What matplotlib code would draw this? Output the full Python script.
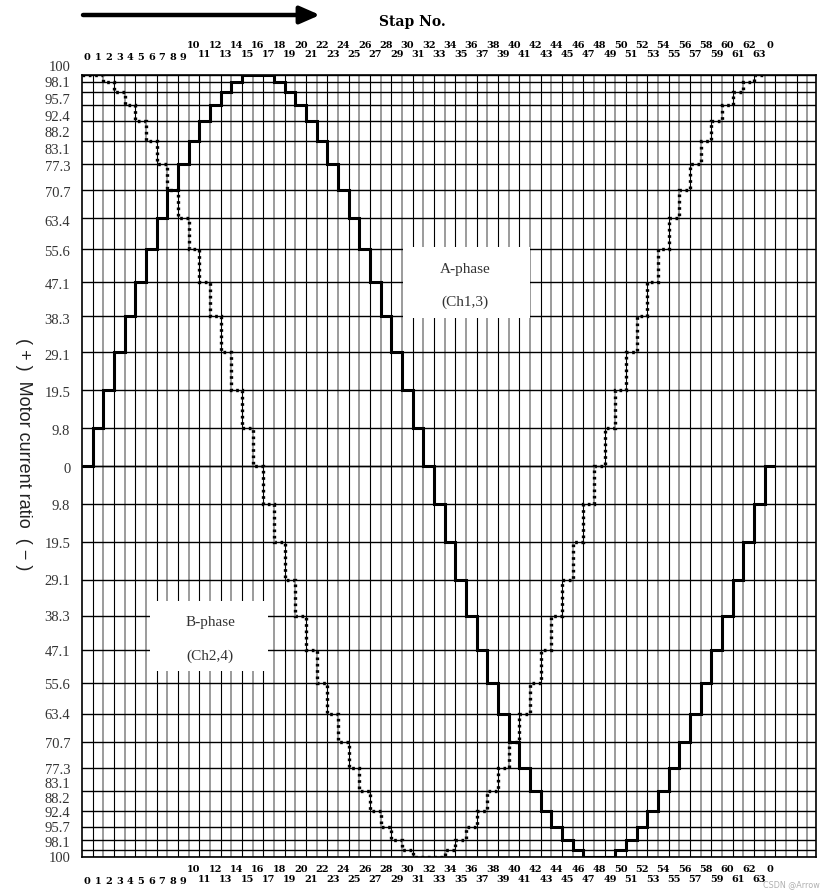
import numpy as np
import matplotlib.pyplot as plt
from matplotlib.patches import Rectangle

# current ratio levels (quarter wave table)
levels = [0, 9.8, 19.5, 29.1, 38.3, 47.1, 55.6, 63.4, 70.7, 77.3, 83.1, 88.2, 92.4, 95.7, 98.1, 100]

# A-phase (Ch1,3), steps 0..63 and back to 0
a_phase = [0, 9.8, 19.5, 29.1, 38.3, 47.1, 55.6, 63.4, 70.7, 77.3, 83.1, 88.2, 92.4, 95.7, 98.1, 100,
           100, 100, 98.1, 95.7, 92.4, 88.2, 83.1, 77.3, 70.7, 63.4, 55.6, 47.1, 38.3, 29.1, 19.5, 9.8,
           0, -9.8, -19.5, -29.1, -38.3, -47.1, -55.6, -63.4, -70.7, -77.3, -83.1, -88.2, -92.4, -95.7, -98.1, -100,
           -100, -100, -98.1, -95.7, -92.4, -88.2, -83.1, -77.3, -70.7, -63.4, -55.6, -47.1, -38.3, -29.1, -19.5, -9.8,
           0]

# B-phase (Ch2,4), steps 0..63
b_phase = [100, 100, 98.1, 95.7, 92.4, 88.2, 83.1, 77.3, 70.7, 63.4, 55.6, 47.1, 38.3, 29.1, 19.5, 9.8,
           0, -9.8, -19.5, -29.1, -38.3, -47.1, -55.6, -63.4, -70.7, -77.3, -83.1, -88.2, -92.4, -95.7, -98.1, -100,
           -100, -100, -98.1, -95.7, -92.4, -88.2, -83.1, -77.3, -70.7, -63.4, -55.6, -47.1, -38.3, -29.1, -19.5, -9.8,
           0, 9.8, 19.5, 29.1, 38.3, 47.1, 55.6, 63.4, 70.7, 77.3, 83.1, 88.2, 92.4, 95.7, 98.1, 100]

step_labels = [str(i) for i in range(64)] + ['0']

W, H = 825, 892
fig = plt.figure(figsize=(W / 100, H / 100), dpi=100)
ax = fig.add_axes([82 / W, 1 - 857 / H, (816 - 82) / W, (857 - 75) / H])
ax.set_xlim(0, 68.8)
ax.set_ylim(-100, 100)
ax.set_xticks([])
ax.set_yticks([])
for s in ax.spines.values():
    s.set_linewidth(1.2)

# grid
for i in range(1, 69):
    if i % 2:
        ax.axvline(i, color='black', lw=0.8, zorder=1)
    else:
        ax.axvline(i, color='#8a8a8a', lw=1.2, zorder=1)
for v in levels:
    ax.axhline(v, color='black', lw=1.0, zorder=1)
    ax.axhline(-v, color='black', lw=1.0, zorder=1)

# phase name boxes
ax.add_patch(Rectangle((30.1, 37.8), 11.9, 18.2, facecolor='white', edgecolor='none', zorder=2))
ax.add_patch(Rectangle((6.4, -52.4), 11.0, 18.0, facecolor='white', edgecolor='none', zorder=2))
txt = dict(family='Liberation Serif', fontsize=11, color='#333333', ha='center', va='center', zorder=3)
ax.text(35.9, 50.3, 'A-phase', **txt)
ax.text(35.9, 42.0, '(Ch1,3)', **txt)
ax.text(12.0, -40.0, 'B-phase', **txt)
ax.text(12.0, -48.7, '(Ch2,4)', **txt)

# waveforms
ax.stairs(a_phase, np.arange(len(a_phase) + 1), baseline=None, color='black', lw=2.2, zorder=4)
ax.stairs(b_phase, np.arange(len(b_phase) + 1), baseline=None, color='black', lw=2.4,
          linestyle=(0, (0.8, 1.1)), zorder=4)

# y tick labels (top ones spread so they don't collide)
ylab = dict(family='Liberation Serif', fontsize=10.5, color='#333333', ha='right', va='center')
ytr = ax.get_yaxis_transform()
crowd = [v for v in levels if v > 80]
top_pos = np.linspace(80.7, 102, len(crowd))
bot_pos = np.linspace(-81.4, -100.4, len(crowd))
for v in levels:
    if v > 80:
        k = crowd.index(v)
        yt, yb = top_pos[k], bot_pos[k]
    else:
        yt, yb = v - 1, -v - 0.5
    ax.text(-0.016, yt, f'{v:g}', transform=ytr, **ylab)
    if v > 0:
        ax.text(-0.016, yb, f'{v:g}', transform=ytr, **ylab)

ax.text(-0.08, 0.515, '( + )  Motor current ratio  ( − )', transform=ax.transAxes,
        rotation=270, ha='center', va='center', fontsize=13, family='Liberation Sans', color='#222222')

# step number labels, top and bottom
xtr = ax.get_xaxis_transform()
xl = dict(family='DejaVu Serif', fontweight='bold', fontsize=7, ha='center', va='center')
for i, lab in enumerate(step_labels):
    upper = i >= 10 and i % 2 == 0
    x = i + 0.5
    if upper:
        ax.text(x, 1 + 30 / 782, lab, transform=xtr, **xl)
        ax.text(x, -12 / 782, lab, transform=xtr, **xl)
    else:
        dy = 18 if i < 10 else 21
        ax.text(x, 1 + dy / 782, lab, transform=xtr, **xl)
        ax.text(x, -(25 if i < 10 else 22) / 782, lab, transform=xtr, **xl)

fig.text(412 / W, 1 - 22 / H, 'Stap No.', ha='center', va='center', family='DejaVu Serif',
         fontweight='bold', fontsize=10)
ax.annotate('', xy=(320 / W, 1 - 15 / H), xytext=(83 / W, 1 - 15 / H), xycoords='figure fraction',
            arrowprops=dict(arrowstyle='-|>,head_length=0.8,head_width=0.35', lw=3.2,
                            mutation_scale=15, color='black', shrinkA=0, shrinkB=0))
fig.text(820 / W, 1 - 885 / H, 'CSDN @Arrow', ha='right', va='center', fontsize=5.8, color='#b0b0b0')

fig.savefig('out.png', dpi=100)
